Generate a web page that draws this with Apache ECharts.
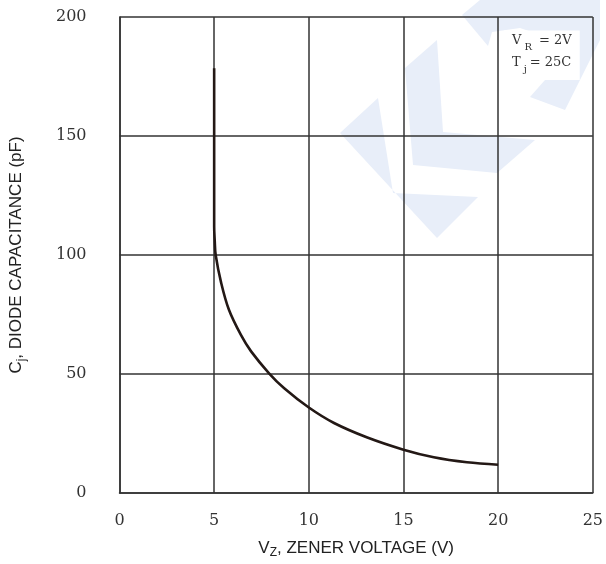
<!DOCTYPE html>
<html>
<head>
<meta charset="utf-8">
<script src="https://cdn.jsdelivr.net/npm/echarts@6/dist/echarts.min.js"></script>
<style>html,body{margin:0;padding:0;background:#fff}#c{width:606px;height:564px}</style>
</head>
<body>
<div id="c"></div>
<script>
// Zener voltage (V) and diode capacitance (pF)
const vz  = [5, 5, 5, 5.03, 5.08, 5.37, 5.78, 6.42, 6.95, 7.91, 8.7, 10, 11.33, 13.09, 15, 16.6, 18.35, 20];
const cj  = [178.5, 140, 112, 106, 100, 88.3, 77, 66.3, 59.5, 50.2, 44, 35.9, 29.4, 23.3, 18.2, 15, 12.9, 11.9];
const xTicks = [0, 5, 10, 15, 20, 25];
const yTicks = [0, 50, 100, 150, 200];

const chart = echarts.init(document.getElementById('c'));
const serif = 'DejaVu Serif';
const sans = 'Liberation Sans';
const wm = '#e8eef9';
chart.setOption({
  animation: false,
  backgroundColor: '#fff',
  graphic: [
    { type: 'polygon', z: -10, silent: true,
      shape: { points: [[340,133],[378,98],[393,193],[478,197],[437,238]] },
      style: { fill: wm } },
    { type: 'polygon', z: -10, silent: true,
      shape: { points: [[405,68],[437,40],[443,132],[535,140],[497,173],[413,165]] },
      style: { fill: wm } },
    { type: 'polygon', z: -10, silent: true,
      shape: { points: [[462,15],[480,0],[600,0],[600,40],[565,110],[530,97],[545,80],[570,45],[520,28],[492,32],[488,46]] },
      style: { fill: wm } }
  ],
  title: {
    left: 504, top: 26,
    backgroundColor: '#fff',
    padding: [4, 8, 6, 8],
    text: '{a|V}{s|R}{a| = 2V}\n{a|T}{s|j}{a|= 25C}',
    textStyle: {
      fontWeight: 'normal',
      rich: {
        a: { fontFamily: serif, fontSize: 13, color: '#333', lineHeight: 22, fontWeight: 'normal' },
        s: { fontFamily: serif, fontSize: 10, color: '#333', lineHeight: 12, verticalAlign: 'bottom', fontWeight: 'normal', padding: [0, 3, 0, 3] }
      }
    }
  },
  grid: { left: 118, right: 13, top: 17, bottom: 70, containLabel: false },
  xAxis: {
    type: 'value', min: 0, max: 25, interval: 5,
    axisLine: { show: true, lineStyle: { color: '#333', width: 1.5 } },
    axisTick: { show: false },
    axisLabel: { margin: 20, fontFamily: serif, fontSize: 16, color: '#333',
      formatter: v => xTicks.includes(v) ? String(v) : '' },
    splitLine: { show: true, lineStyle: { color: '#333', width: 1.5 } },
    name: '{a|V}{s|Z}{a|, ZENER VOLTAGE (V)}',
    nameLocation: 'middle', nameGap: 44,
    nameTextStyle: { rich: {
      a: { fontFamily: sans, fontSize: 17, color: '#222', lineHeight: 22 },
      s: { fontFamily: sans, fontSize: 12, color: '#222', lineHeight: 12, verticalAlign: 'bottom' }
    } }
  },
  yAxis: {
    type: 'value', min: 0, max: 200, interval: 50,
    axisLine: { show: true, lineStyle: { color: '#333', width: 1.5 } },
    axisTick: { show: false },
    axisLabel: { margin: 33, fontFamily: serif, fontSize: 16, color: '#333',
      formatter: v => yTicks.includes(v) ? String(v) : '' },
    splitLine: { show: true, lineStyle: { color: '#333', width: 1.5 } },
    name: '{a|C}{s|j}{a|, DIODE CAPACITANCE (pF)}',
    nameLocation: 'middle', nameGap: 92,
    nameTextStyle: { rich: {
      a: { fontFamily: sans, fontSize: 17, color: '#222', lineHeight: 22 },
      s: { fontFamily: sans, fontSize: 12, color: '#222', lineHeight: 12, verticalAlign: 'bottom' }
    } }
  },
  series: [{
    type: 'line',
    data: vz.map((v, i) => [v, cj[i]]),
    showSymbol: false,
    smooth: 0.35,
    lineStyle: { color: '#231815', width: 2.6 },
    z: 5
  }]
});
</script>
</body>
</html>
